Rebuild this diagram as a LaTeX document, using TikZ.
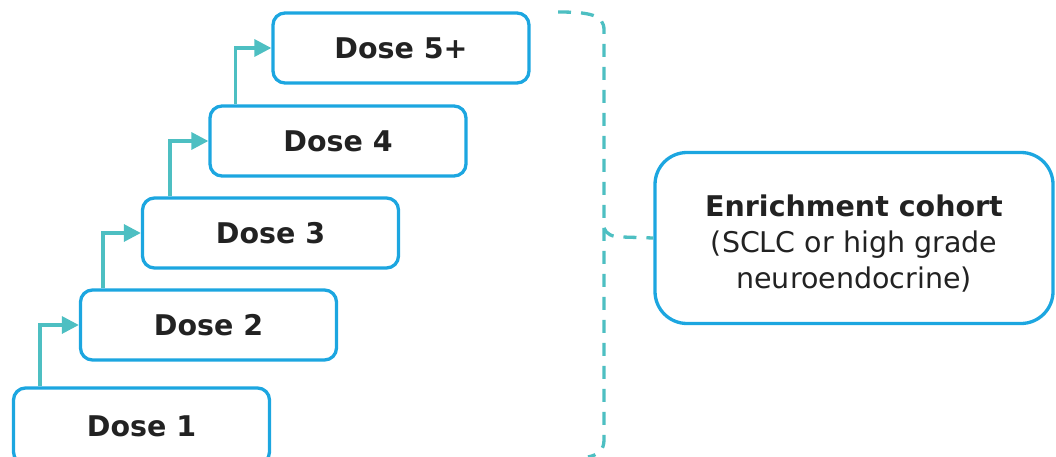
\documentclass[tikz,border=0pt]{standalone}
\usepackage{fontspec}
\setmainfont{DejaVu Sans}
\usetikzlibrary{arrows.meta}
\definecolor{boxblue}{HTML}{1CA6E0}
\definecolor{teal2}{HTML}{4DBFC2}
\definecolor{txt}{HTML}{222222}
\tikzset{
  dosebox/.style={draw=boxblue, line width=3.3pt, rounded corners=12pt, minimum width=256pt, minimum height=70pt, inner sep=0pt, text=txt, font=\fontsize{28.5}{32}\selectfont\bfseries},
  bigbox/.style={draw=boxblue, line width=3.3pt, rounded corners=32pt, minimum width=398pt, minimum height=171pt, inner sep=0pt},
  bigtext/.style={text=txt, align=center, font=\fontsize{28.5}{36}\selectfont, yshift=-6pt},
  arr/.style={draw=teal2, line width=3.3pt, -{Triangle[length=17pt,width=17pt]}},
  brk/.style={draw=teal2, line width=3.3pt, dash pattern=on 13pt off 10pt}
}
\begin{document}
\begin{tikzpicture}[x=1pt,y=-1pt]
\useasboundingbox (0,0) rectangle (1056,457);
\node[dosebox, minimum height=76pt] (d1) at (141.5,426) {Dose 1};
\node[dosebox] (d2) at (208.5,325) {Dose 2};
\node[dosebox] (d3) at (270.5,233) {Dose 3};
\node[dosebox] (d4) at (338,141) {Dose 4};
\node[dosebox] (d5) at (401,48) {Dose 5+};
\node[bigbox, label={[bigtext]center:\textbf{Enrichment cohort}\\(SCLC or high grade\\neuroendocrine)}] (e) at (854,238) {};
\draw[arr] ([xshift=28pt]d1.north west) |- (d2.west);
\draw[arr] ([xshift=24pt]d2.north west) |- (d3.west);
\draw[arr] ([xshift=29pt]d3.north west) |- (d4.west);
\draw[arr] ([xshift=27pt]d4.north west) |- (d5.west);
\coordinate (bt) at (558,12);
\coordinate (bb) at (588,457);
\coordinate (bm) at (604,228);
\draw[brk] (bt) .. controls (590,12) and (604,15) .. (604,30) -- (604,440) .. controls (604,450) and (598,455) .. (bb);
\draw[brk] (bm) .. controls (606,234) and (612,237) .. (622,237) -- (e.west);
\end{tikzpicture}
\end{document}
